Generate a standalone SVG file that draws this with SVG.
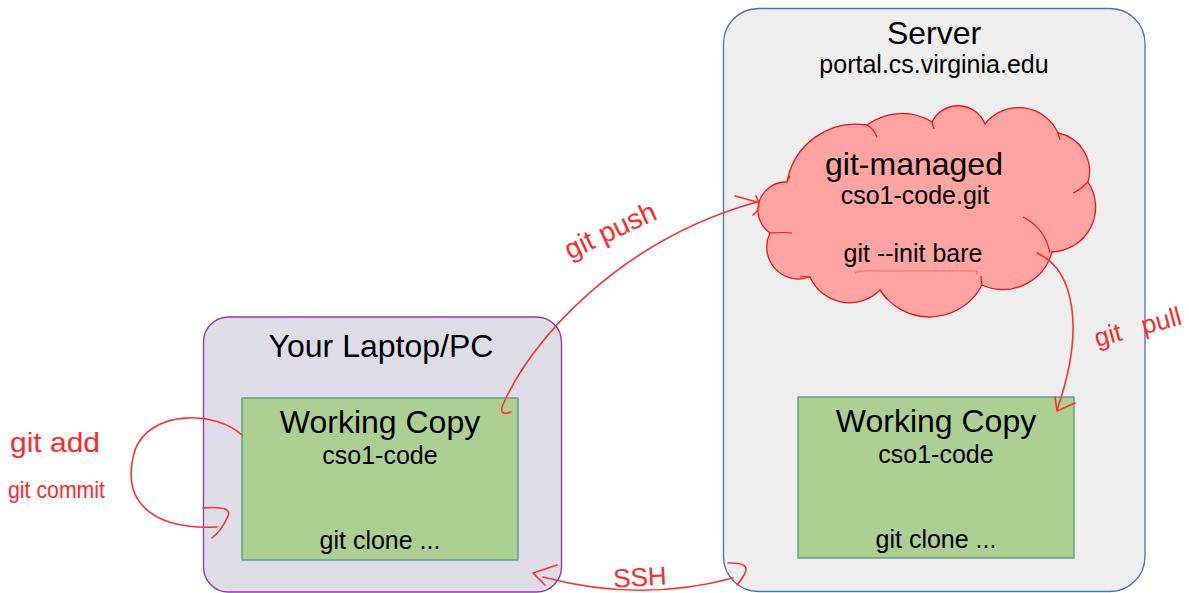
<svg xmlns="http://www.w3.org/2000/svg" width="1189" height="593" viewBox="0 0 1189 593">
<style>
.t{font-family:"Liberation Sans",Arial,sans-serif;fill:#000;text-anchor:middle}
.big{font-size:32px}
.sub{font-size:25px}
.hw{font-family:"Liberation Sans",Arial,sans-serif;fill:#ff2a2a}
.con{fill:none;stroke:#ff3030;stroke-width:1.6;stroke-linecap:round;stroke-linejoin:round}
.inner{fill:none;stroke:#ee1515;stroke-width:1.2}
</style>
<rect width="1189" height="593" fill="#fff"/>
<g id="server">
<rect x="723.5" y="8.5" width="421.5" height="583" rx="35" fill="#eeeeee" stroke="#4f74a8" stroke-width="1.3"/>
<text class="t big" x="934" y="44">Server</text>
<text class="t sub" x="934" y="73">portal.cs.virginia.edu</text>
</g>
<g id="laptop">
<rect x="203.5" y="317" width="358" height="275" rx="25" fill="#dedce6" stroke="#8a3a9e" stroke-width="1.3"/>
<text class="t big" x="381" y="357">Your Laptop/PC</text>
</g>
<g id="laptop-working-copy">
<rect x="242" y="398" width="276" height="162" fill="#aecf94" stroke="#4e9b80" stroke-width="1.3"/>
<text class="t big" x="380" y="433">Working Copy</text>
<text class="t sub" x="380" y="464">cso1-code</text>
<text class="t sub" x="380" y="549">git clone ...</text>
</g>
<g id="cloud">
<path d="M787,182 A70,70 0 0 1 867,125 A58,58 0 0 1 932,122 A29,29 0 0 1 985,124 A43,43 0 0 1 1058,133 A39,39 0 0 1 1088,182 A45,45 0 0 1 1052,252 A51,51 0 0 1 982,285 A59,59 0 0 1 880,290 A43,43 0 0 1 810,277 A32,32 0 0 1 770,233 A28,28 0 0 1 787,182 Z" fill="#ffa3a3" stroke="#ee1515" stroke-width="1.3"/>
<path class="inner" d="M867,125 Q874,129 877,137 M932,122 Q933,126 934,129 M1058,133 Q1059,137 1060,140 M1088,182 Q1080,190 1073,193 M1023,217 Q1045,228 1050,253 M982,285 Q981,280 981,276 M880,290 Q883,295 887,299 M810,277 Q805,276 800,277 M770,233 Q782,232 792,233 M787,182 Q788,178 790,176"/>
<text class="t big" x="914" y="175">git-managed</text>
<text class="t sub" x="915" y="204">cso1-code.git</text>
<text class="t sub" x="913" y="262">git --init bare</text>
<path d="M855,273 Q858,270 880,271 L975,271 Q980,272 976,274" fill="none" stroke="#ff4040" stroke-width="1.2" opacity="0.6"/>
</g>
<g id="server-working-copy">
<rect x="798" y="397" width="276" height="161" fill="#aecf94" stroke="#4e9b80" stroke-width="1.3"/>
<text class="t big" x="936" y="432">Working Copy</text>
<text class="t sub" x="936" y="463">cso1-code</text>
<text class="t sub" x="936" y="548">git clone ...</text>
</g>
<g id="connectors">
<path class="con" d="M511,412 Q500,416 502,407 C530,340 620,240 757,202"/>
<path class="con" d="M735,196 L757,202 M756,196 Q763,208 753,215"/>
<path class="con" d="M1037,253 C1075,270 1085,330 1057,410"/>
<path class="con" d="M1055,397 L1057,411 L1075,403"/>
<path class="con" d="M242,435 C215,410 150,410 135,450 C120,500 150,530 217,527"/>
<path class="con" d="M203,508 Q235,505 227,518 Q222,530 212,538"/>
<path class="con" d="M543,577 Q640,603 733,578"/>
<path class="con" d="M557,565 L533,573 L545,585"/>
<path class="con" d="M728,563 Q752,562 744,575 Q740,582 737,585"/>
</g>
<g id="labels">
<text class="hw" x="10" y="452" style="font-size:28px" textLength="90" lengthAdjust="spacingAndGlyphs">git add</text>
<text class="hw" x="8" y="498" style="font-size:24px" textLength="97" lengthAdjust="spacingAndGlyphs">git commit</text>
<text class="hw" x="610" y="240" text-anchor="middle" transform="rotate(-25 610 230)" style="font-size:28px">git push</text>
<text class="hw" x="1097" y="347" transform="rotate(-15 1097 347)" style="font-size:26px" word-spacing="14">git pull</text>
<text class="hw" x="640" y="586" text-anchor="middle" transform="rotate(-3 640 578)" style="font-size:26px">SSH</text>
</g>
</svg>
